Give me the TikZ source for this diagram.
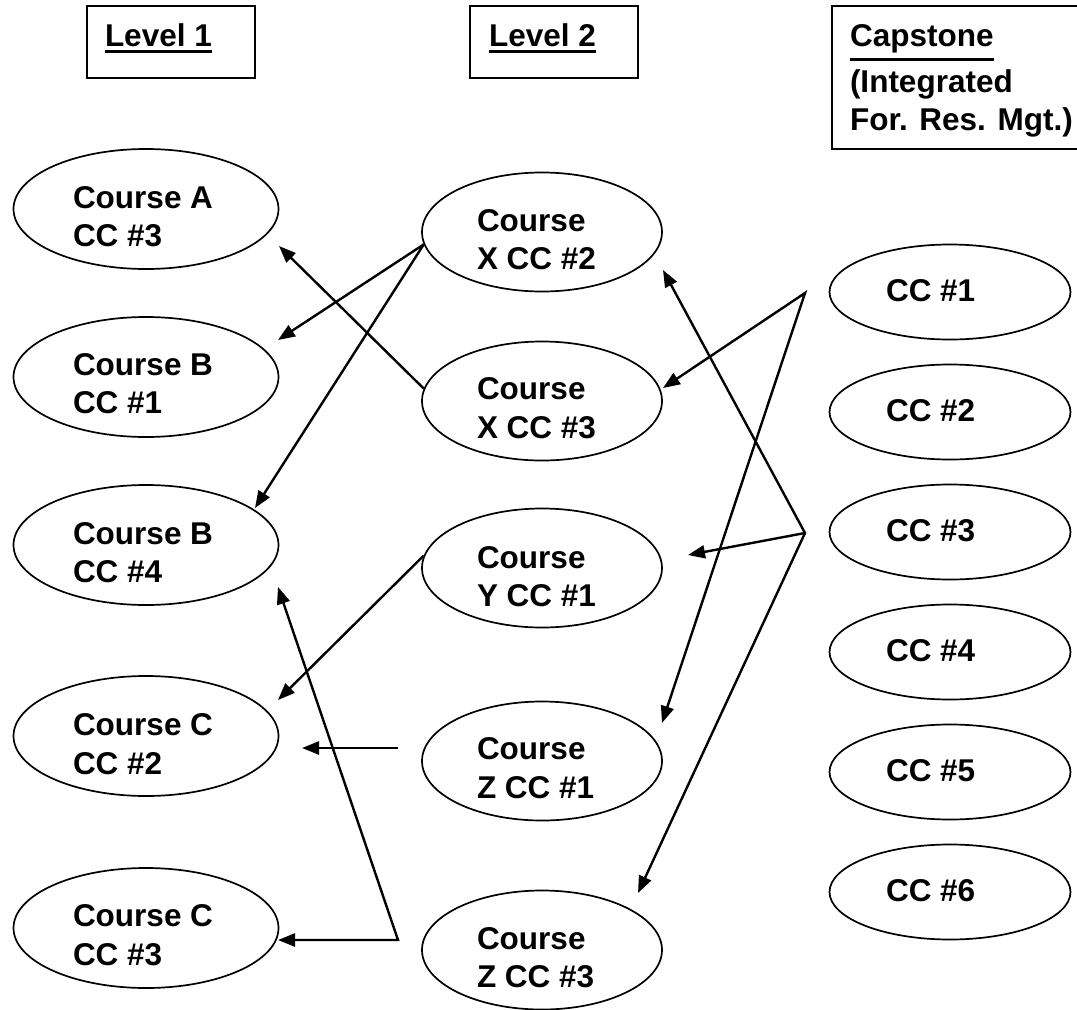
\documentclass[tikz,border=0pt]{standalone}
\usepackage{fontspec}
\setmainfont{Liberation Sans}
\usetikzlibrary{shapes.geometric,arrows.meta}
\newsavebox\ulbox
\newcommand\hdul[2][6.7pt]{\sbox\ulbox{#2}\rlap{\rule[-#1]{\wd\ulbox}{3pt}}\usebox\ulbox}
\begin{document}
\begin{tikzpicture}[x=1pt,y=-1pt,
  hbox/.style={draw,line width=2.4pt,inner sep=0pt,anchor=north west},
  ellA/.style={draw,ellipse,line width=1.7pt,minimum width=265pt,minimum height=120pt,inner sep=0pt},
  ellB/.style={ellA,minimum width=240pt,minimum height=119pt},
  ellC/.style={ellA,minimum width=241pt,minimum height=95pt},
  txt/.style={inner sep=0pt,outer sep=0pt,anchor=west,align=left,font=\bfseries\fontsize{31.5}{38.5}\selectfont},
  tip/.tip={Triangle[length=17pt,width=13pt]},
  arr/.style={line width=2.4pt,line join=miter,-tip},
  arrb/.style={line width=2.4pt,line join=miter,tip-tip}
]
\useasboundingbox (0,0) rectangle (1077,1010);

% header boxes
\node[hbox,minimum width=168pt,minimum height=72pt] (l1box) at (86,5) {};
\node[hbox,minimum width=168pt,minimum height=72pt] (l2box) at (469,5) {};
\node[hbox,minimum width=262pt,minimum height=143pt] (capbox) at (831,5) {};
\node[txt,anchor=base west] (l1) at (105,46) {\hdul{Level 1}};
\node[txt,anchor=base west] (l2) at (489,46) {\hdul{Level 2}};
\node[txt,anchor=north west] (cap) at (850,25) {\hdul[14pt]{Capstone}\\[7pt](Integrated\\For. Res. Mgt.)};

% Level 1
\node[ellA] (a3) at (146,209) {};
\node[txt] (a3t) at (73,216.5) {Course A\\CC \#3};
\node[ellA] (b1) at (146,377) {};
\node[txt] (b1t) at (73,383.5) {Course B\\CC \#1};
\node[ellA] (b4) at (146,545) {};
\node[txt] (b4t) at (73,552.5) {Course B\\CC \#4};
\node[ellA] (c2) at (146,736) {};
\node[txt] (c2t) at (73,744) {Course C\\CC \#2};
\node[ellA] (c3) at (146,928) {};
\node[txt] (c3t) at (73,935) {Course C\\CC \#3};

% Level 2
\node[ellB] (xc2) at (542,232) {};
\node[txt] (xc2t) at (477,239.5) {Course\\X CC \#2};
\node[ellB] (xc3) at (542,401) {};
\node[txt] (xc3t) at (477,408) {Course\\X CC \#3};
\node[ellB] (yc1) at (542,568) {};
\node[txt] (yc1t) at (477,576.5) {Course\\Y CC \#1};
\node[ellB] (zc1) at (542,761) {};
\node[txt] (zc1t) at (477,768) {Course\\Z CC \#1};
\node[ellB] (zc3) at (542,950) {};
\node[txt] (zc3t) at (477,957.5) {Course\\Z CC \#3};

% Capstone
\node[ellC] (k1) at (950,292) {};
\node[txt] (k1t) at (886,290.5) {CC \#1};
\node[ellC] (k2) at (950,412) {};
\node[txt] (k2t) at (886,410.5) {CC \#2};
\node[ellC] (k3) at (950,532) {};
\node[txt] (k3t) at (886,530.5) {CC \#3};
\node[ellC] (k4) at (950,652) {};
\node[txt] (k4t) at (886,650.5) {CC \#4};
\node[ellC] (k5) at (950,772) {};
\node[txt] (k5t) at (886,770.5) {CC \#5};
\node[ellC] (k6) at (950,892) {};
\node[txt] (k6t) at (886,890.5) {CC \#6};

% free ends
\coordinate (p1) at (805,293);
\coordinate (p2) at (805,533);
\coordinate (p3) at (398,940);
\coordinate (q) at (398,748);
\coordinate (t1) at (278,340);
\coordinate (t2) at (255,508);
\coordinate (t3) at (279,246);
\coordinate (t4) at (663,388);
\coordinate (t5) at (662,723);
\coordinate (t6) at (663,270);
\coordinate (t7) at (688,555);
\coordinate (t8) at (638,893);
\coordinate (t9) at (278,700);
\coordinate (t10) at (302,748);
\coordinate (t11) at (278,940);
\coordinate (t12) at (278,587);

% connectors
\draw[arr] (xc2.186) -- (t1);
\draw[arr] (xc2.186) -- (t2);
\draw[arr] (xc3.174) -- (t3);
\draw[arrb] (t4) -- (p1) -- (t5);
\draw[arrb] (t6) -- (p2) -- (t8);
\draw[arr] (p2) -- (t7);
\draw[arr] (yc1.174) -- (t9);
\draw[arr] (q) -- (t10);
\draw[arrb] (t11) -- (p3) -- (t12);
\end{tikzpicture}
\end{document}
